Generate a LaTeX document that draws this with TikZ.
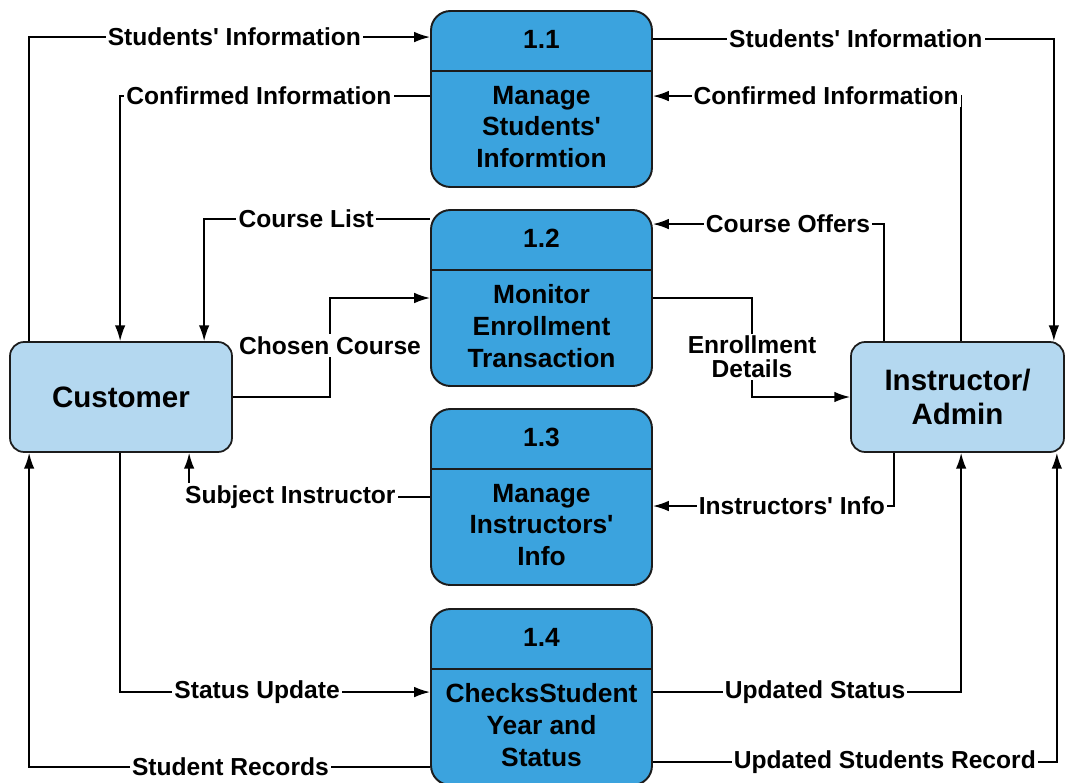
\documentclass[tikz,border=0pt]{standalone}
\usepackage{fontspec}
\setmainfont{Liberation Sans}
\usetikzlibrary{arrows,arrows.meta,positioning,calc}
\definecolor{procblue}{HTML}{3BA3DE}
\definecolor{entblue}{HTML}{B4D8F0}
\definecolor{edgegray}{HTML}{1C1C1C}
\newcommand{\q}{\textquotesingle}

\begin{document}
\begin{tikzpicture}[x=0.02cm,y=-0.02cm,
    proc/.style={draw=edgegray, line width=1.1pt, fill=procblue, rounded corners=11pt, minimum width=4.42cm, minimum height=3.52cm},
    entity/.style={draw=edgegray, line width=1pt, fill=entblue, rounded corners=8pt, minimum height=2.2cm, font=\fontsize{16.8}{19}\selectfont\bfseries, align=center},
    flow/.style={draw, line width=1pt, -{Latex[length=9pt,width=6pt]}},
    lbl/.style={fill=white, inner sep=1.2pt, font=\fontsize{14}{13.7}\selectfont\bfseries, align=center},
    ptext/.style={font=\fontsize{15}{18}\selectfont\bfseries, align=center}]
        \useasboundingbox (0,0) rectangle (1065,782);
        %entities
        \node[entity, minimum width=4.44cm] (cust) at (121,397) {Customer};
        \node[entity, minimum width=4.26cm] (inst) at (957.5,397) {Instructor/\\Admin};
        %processes
        \foreach \i/\y/\txt in {1/99/{Manage\\Students\q\\Informtion}, 2/298/{Monitor\\Enrollment\\Transaction}, 3/497/{Manage\\Instructors\q\\Info}, 4/697/{ChecksStudent\\Year and\\Status}}{
          \node[proc] (p\i) at (541.5,\y) {};
          \node[ptext] (n\i) at ($(p\i.north)+(0,29)$) {1.\i};
          \draw[edgegray, line width=1.1pt] ($(p\i.north west)+(0,61)$) -- ($(p\i.north east)+(0,61)$);
          \node[ptext] (t\i) at ($(p\i.north)+(0,117)$) {\txt};
        }
        \coordinate (cc) at (330,298);
        \coordinate (ed) at (752,397);
        %customer side
        \path [flow] ($(cust.north west)+(20,0)$) |- node[lbl,pos=0.756]{Students\q{} Information} ($(p1.north west)+(0,27)$);
        \path [flow] ($(p1.north west)+(0,86)$) -| node[lbl,pos=0.276]{Confirmed Information} ($(cust.north west)+(111,0)$);
        \path [flow] ($(p2.north west)+(0,10)$) -| node[lbl,pos=0.274]{Course List} ($(cust.north west)+(195,0)$);
        \path [flow] (cust.east) -| node[lbl,pos=0.76]{Chosen Course} (cc) -- (p2.west);
        \path [flow] (p3.west) -| node[lbl,pos=0.29]{Subject Instructor} ($(cust.south west)+(180,0)$);
        \path [flow] ($(cust.south west)+(111,0)$) |- node[lbl,pos=0.721]{Status Update} ($(p4.north west)+(0,84)$);
        \path [flow] ($(p4.north west)+(0,159)$) -| node[lbl,pos=0.249]{Student Records} ($(cust.south west)+(20,0)$);
        %instructor side
        \path [flow] ($(p1.north east)+(0,29)$) -| node[lbl,pos=0.253]{Students\q{} Information} ($(inst.north east)+(-11,0)$);
        \path [flow] ($(inst.north west)+(111,0)$) |- node[lbl,pos=0.719]{Confirmed Information} ($(p1.north east)+(0,86)$);
        \path [flow] ($(inst.north west)+(34,0)$) |- node[lbl,pos=0.708]{Course Offers} ($(p2.north east)+(0,15)$);
        \path [flow] (p2.east) -| node[lbl,pos=0.798]{Enrollment\\Details} (ed) -- (inst.west);
        \path [flow] ($(inst.south west)+(44,0)$) |- node[lbl,pos=0.712]{Instructors\q{} Info} ($(p3.east)+(0,9)$);
        \path [flow] ($(p4.north east)+(0,84)$) -| node[lbl,pos=0.263]{Updated Status} ($(inst.south west)+(111,0)$);
        \path [flow] ($(p4.north east)+(0,154)$) -| node[lbl,pos=0.287]{Updated Students Record} ($(inst.south east)+(-8,0)$);
\end{tikzpicture}
\end{document}
